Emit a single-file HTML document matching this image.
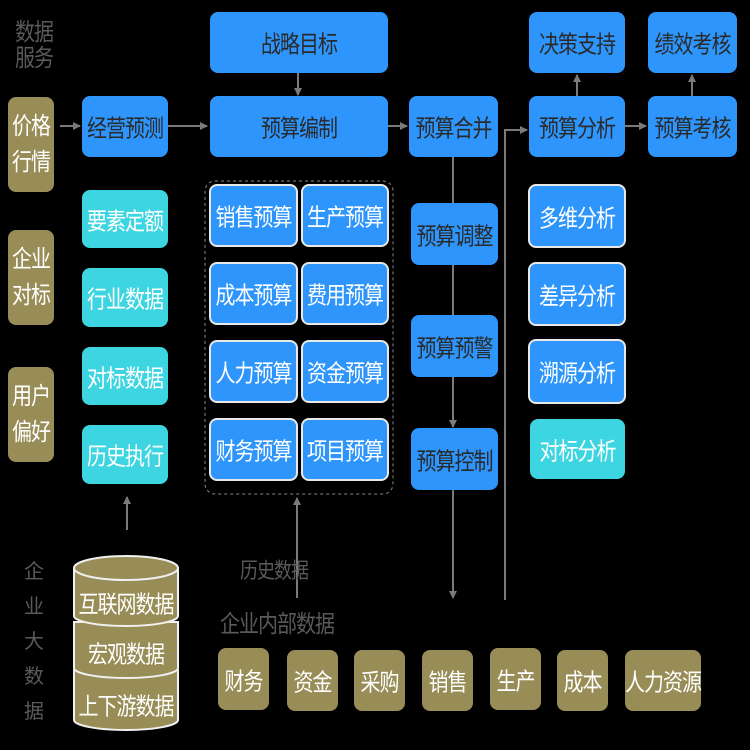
<!DOCTYPE html>
<html><head><meta charset="utf-8"><style>
body{margin:0;background:#000;width:750px;height:750px;overflow:hidden;position:relative;font-family:"Liberation Sans","Noto Sans CJK SC",sans-serif}
.b{position:absolute;display:flex;align-items:center;justify-content:center;border-radius:8px;font-size:20px;box-sizing:border-box;letter-spacing:-1px}
.b>span,.lab>span{display:inline-block;transform:scaleY(1.2)}
.bl{background:#2d95fb;color:#2a2a2a}
.bw{background:#2d95fb;color:#fff;border:2px solid #e8e8e8}
.cy{background:#3dd5e1;color:#fff}
.ol{background:#988c57;color:#fff}
.lab{position:absolute;color:#5a5a5a;font-size:20px;line-height:26px;letter-spacing:-1px}
svg{position:absolute;left:0;top:0}
</style></head><body>
<svg width="750" height="750">
<defs><marker id="a" markerWidth="8" markerHeight="8" refX="7" refY="4" orient="auto" markerUnits="userSpaceOnUse"><path d="M0,0 L8,4 L0,8 Z" fill="#7a7a7a"/></marker></defs>
<g stroke="#7a7a7a" stroke-width="2" fill="none">
<line x1="60" y1="126" x2="80" y2="126" marker-end="url(#a)"/>
<line x1="168" y1="126" x2="207" y2="126" marker-end="url(#a)"/>
<line x1="298" y1="73" x2="298" y2="95" marker-end="url(#a)"/>
<line x1="388" y1="126" x2="407" y2="126" marker-end="url(#a)"/>
<line x1="453" y1="157" x2="453" y2="203"/>
<line x1="453" y1="265" x2="453" y2="315"/>
<line x1="453" y1="377" x2="453" y2="427" marker-end="url(#a)"/>
<line x1="453" y1="490" x2="453" y2="598" marker-end="url(#a)"/>
<polyline points="505,600 505,130 527,130" marker-end="url(#a)"/>
<line x1="577" y1="96" x2="577" y2="75" marker-end="url(#a)"/>
<line x1="625" y1="126" x2="646" y2="126" marker-end="url(#a)"/>
<line x1="692" y1="96" x2="692" y2="75" marker-end="url(#a)"/>
<line x1="127" y1="530" x2="127" y2="497" marker-end="url(#a)"/>
<line x1="297" y1="598" x2="297" y2="498" marker-end="url(#a)"/>
</g>
<rect x="205" y="181" width="188" height="313" rx="10" fill="none" stroke="#888" stroke-width="1" stroke-dasharray="3,3"/>
<g fill="#988c57" stroke="#f0f0f0" stroke-width="2">
<path d="M74,670 L74,720 A52,10 0 0 0 178,720 L178,670 Z"/>
<path d="M74,622 L74,668 A52,10 0 0 0 178,668 L178,622 Z"/>
<path d="M74,568 L74,616 A52,10 0 0 0 178,616 L178,568 Z"/>
<ellipse cx="126" cy="568" rx="52" ry="12"/>
</g>
</svg>
<div class="lab" style="left:15px;top:20px"><span>数据</span><br><span>服务</span></div>
<div class="lab" style="left:24px;top:555px;width:20px;line-height:35px">企业大数据</div>
<div class="lab" style="left:240px;top:558px;font-size:18px"><span>历史数据</span></div>
<div class="lab" style="left:220px;top:612px"><span>企业内部数据</span></div>

<div class="b ol" style="left:8px;top:97px;width:46px;height:95px;line-height:30px;text-align:center"><span>价格<br>行情</span></div>
<div class="b ol" style="left:8px;top:230px;width:46px;height:95px;line-height:30px;text-align:center"><span>企业<br>对标</span></div>
<div class="b ol" style="left:8px;top:367px;width:46px;height:95px;line-height:30px;text-align:center"><span>用户<br>偏好</span></div>

<div class="b bl" style="left:82px;top:96px;width:86px;height:61px"><span>经营预测</span></div>
<div class="b cy" style="left:82px;top:190px;width:86px;height:58px"><span>要素定额</span></div>
<div class="b cy" style="left:82px;top:268px;width:86px;height:59px"><span>行业数据</span></div>
<div class="b cy" style="left:82px;top:347px;width:86px;height:58px"><span>对标数据</span></div>
<div class="b cy" style="left:82px;top:425px;width:86px;height:59px"><span>历史执行</span></div>

<div class="b bl" style="left:210px;top:12px;width:178px;height:61px"><span>战略目标</span></div>
<div class="b bl" style="left:210px;top:96px;width:178px;height:61px"><span>预算编制</span></div>

<div class="b bw" style="left:209px;top:184px;width:89px;height:63px"><span>销售预算</span></div>
<div class="b bw" style="left:301px;top:184px;width:88px;height:63px"><span>生产预算</span></div>
<div class="b bw" style="left:209px;top:262px;width:89px;height:63px"><span>成本预算</span></div>
<div class="b bw" style="left:301px;top:262px;width:88px;height:63px"><span>费用预算</span></div>
<div class="b bw" style="left:209px;top:340px;width:89px;height:63px"><span>人力预算</span></div>
<div class="b bw" style="left:301px;top:340px;width:88px;height:63px"><span>资金预算</span></div>
<div class="b bw" style="left:209px;top:418px;width:89px;height:63px"><span>财务预算</span></div>
<div class="b bw" style="left:301px;top:418px;width:88px;height:63px"><span>项目预算</span></div>

<div class="b bl" style="left:409px;top:96px;width:89px;height:61px"><span>预算合并</span></div>
<div class="b bl" style="left:411px;top:203px;width:87px;height:62px"><span>预算调整</span></div>
<div class="b bl" style="left:411px;top:315px;width:87px;height:62px"><span>预算预警</span></div>
<div class="b bl" style="left:411px;top:428px;width:87px;height:62px"><span>预算控制</span></div>

<div class="b bl" style="left:529px;top:12px;width:96px;height:61px"><span>决策支持</span></div>
<div class="b bl" style="left:529px;top:96px;width:96px;height:61px"><span>预算分析</span></div>
<div class="b bl" style="left:648px;top:12px;width:89px;height:61px"><span>绩效考核</span></div>
<div class="b bl" style="left:648px;top:96px;width:89px;height:61px"><span>预算考核</span></div>

<div class="b bw" style="left:528px;top:184px;width:98px;height:64px"><span>多维分析</span></div>
<div class="b bw" style="left:528px;top:262px;width:98px;height:64px"><span>差异分析</span></div>
<div class="b bw" style="left:528px;top:339px;width:98px;height:65px"><span>溯源分析</span></div>
<div class="b cy" style="left:530px;top:419px;width:95px;height:60px"><span>对标分析</span></div>

<div class="b ol" style="left:218px;top:648px;width:51px;height:62px"><span>财务</span></div>
<div class="b ol" style="left:287px;top:650px;width:51px;height:61px"><span>资金</span></div>
<div class="b ol" style="left:354px;top:650px;width:51px;height:61px"><span>采购</span></div>
<div class="b ol" style="left:422px;top:650px;width:51px;height:61px"><span>销售</span></div>
<div class="b ol" style="left:490px;top:648px;width:51px;height:62px"><span>生产</span></div>
<div class="b ol" style="left:557px;top:650px;width:51px;height:61px"><span>成本</span></div>
<div class="b ol" style="left:625px;top:650px;width:76px;height:61px"><span>人力资源</span></div>

<div class="b" style="left:74px;top:582px;width:104px;height:40px;color:#fff"><span>互联网数据</span></div>
<div class="b" style="left:74px;top:632px;width:104px;height:40px;color:#fff"><span>宏观数据</span></div>
<div class="b" style="left:74px;top:684px;width:104px;height:40px;color:#fff"><span>上下游数据</span></div>
</body></html>
